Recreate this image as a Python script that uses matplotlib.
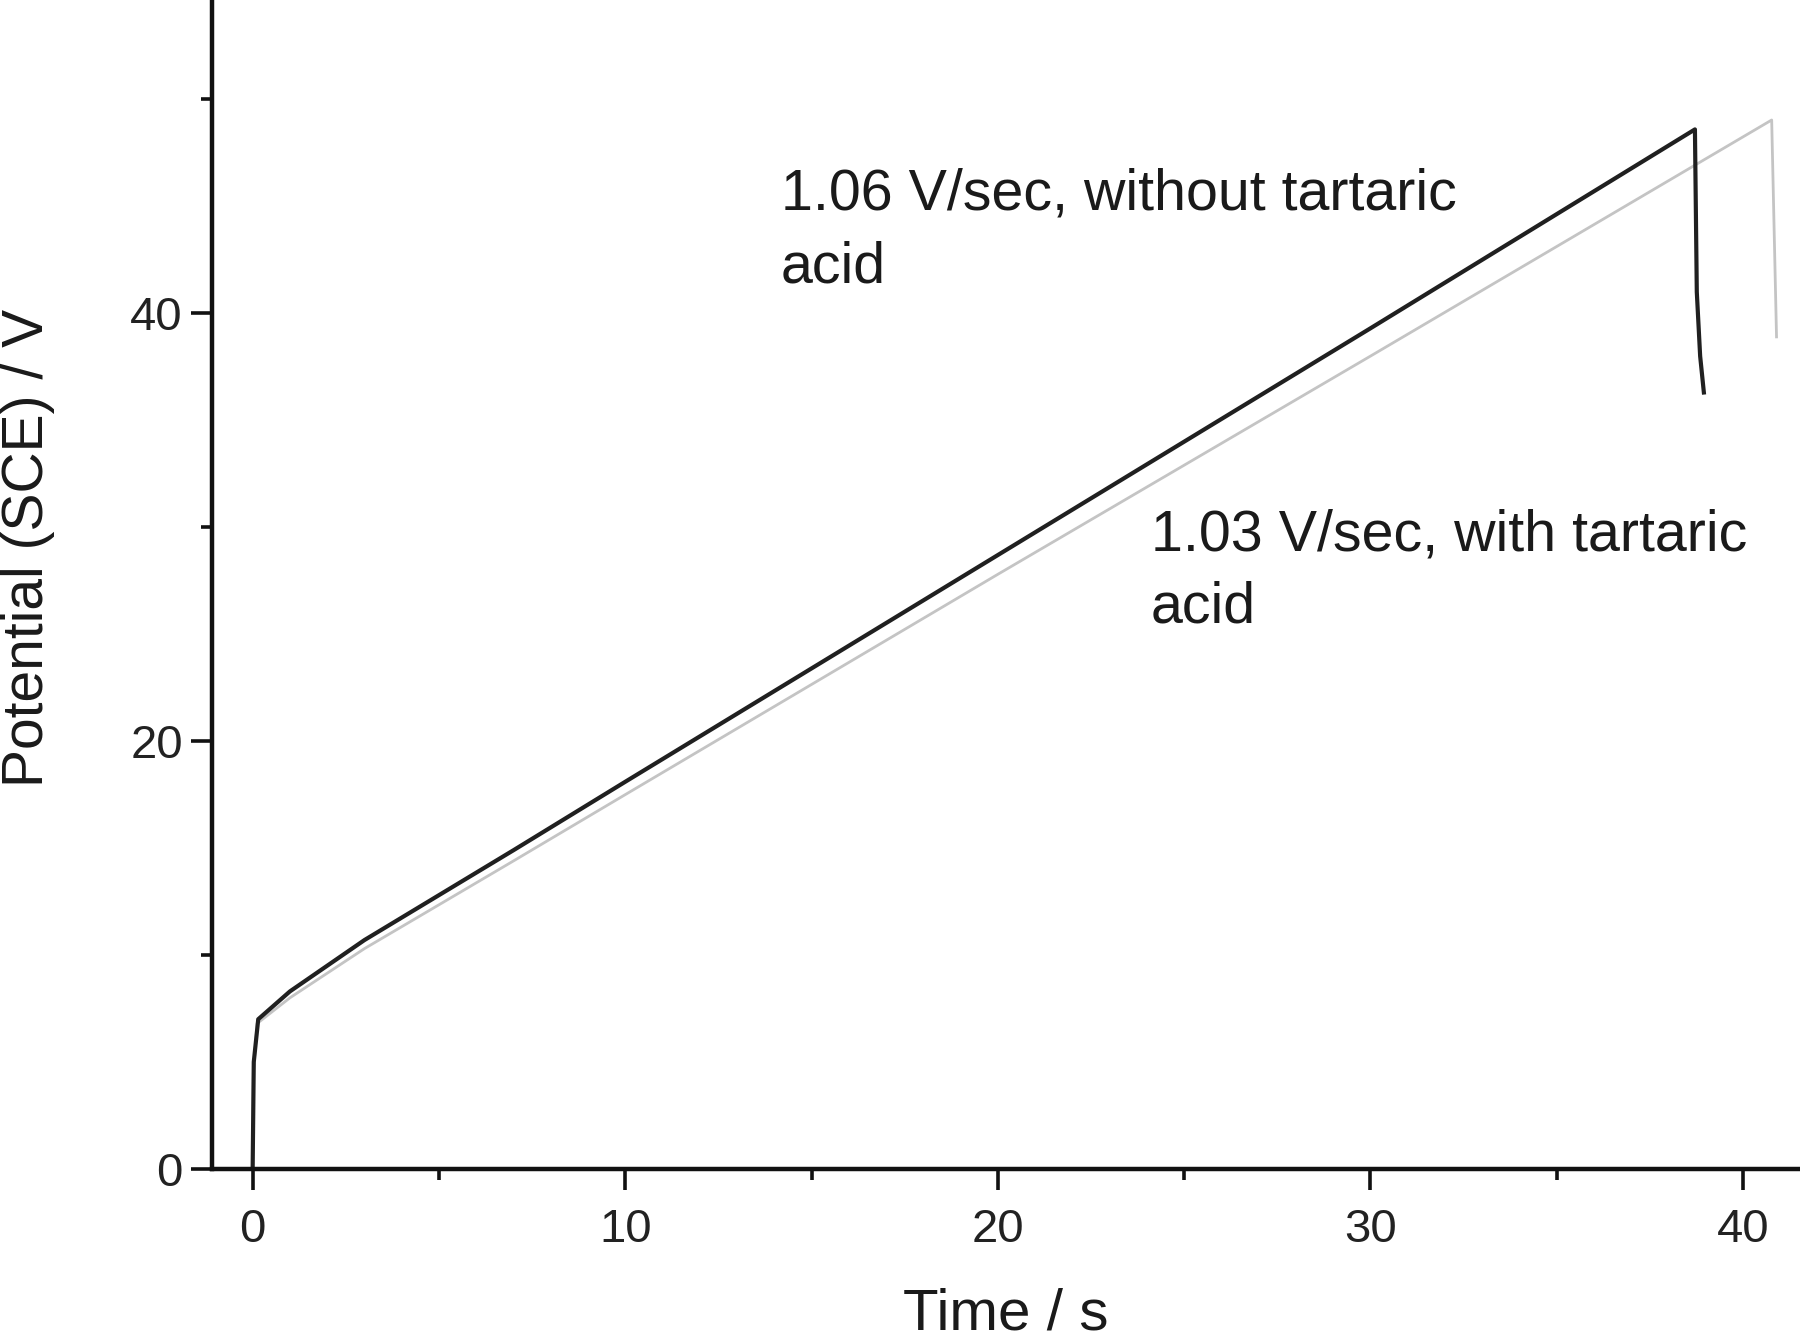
import matplotlib
matplotlib.use('Agg')
import matplotlib.pyplot as plt
from matplotlib.ticker import MultipleLocator

plt.rcParams['font.family'] = ['Liberation Sans', 'DejaVu Sans']

# 1.06 V/sec, without tartaric acid (black)
TIME_NO_TA = [0.0, 0.03, 0.15, 1.0, 3.0, 7.0, 10.0, 20.0, 30.0, 38.71, 38.76, 38.85, 38.95]
POT_NO_TA = [0.0, 5.0, 7.0, 8.3, 10.7, 14.9, 18.1, 28.7, 39.3, 48.6, 41.0, 38.0, 36.3]

# 1.03 V/sec, with tartaric acid (grey)
TIME_TA = [0.0, 0.02, 0.12, 1.0, 3.0, 7.0, 10.0, 20.0, 30.0, 40.77, 40.9]
POT_TA = [0.0, 4.5, 6.8, 8.0, 10.3, 14.4, 17.5, 27.8, 38.0, 49.04, 38.9]

LABEL_NO_TA = '1.06 V/sec, without tartaric\nacid'
LABEL_TA = '1.03 V/sec, with tartaric\nacid'

fig = plt.figure(figsize=(18, 13.39), dpi=100)
ax = fig.add_axes([0.1178, 0.127, 0.8822, 0.873])

ax.plot(TIME_TA, POT_TA, color='#c4c4c4', lw=2.0)
ax.plot(TIME_NO_TA, POT_NO_TA, color='#202020', lw=3.0)

ax.text(14.18, 46.8, LABEL_NO_TA, fontsize=41.3, va='top', ha='left',
        color='#1a1a1a', linespacing=1.45)
ax.text(24.1, 30.9, LABEL_TA, fontsize=41.3, va='top', ha='left',
        color='#1a1a1a', linespacing=1.45)

ax.set_xlim(-1.09, 41.53)
ax.set_ylim(0, 54.65)

ax.xaxis.set_major_locator(MultipleLocator(10))
ax.xaxis.set_minor_locator(MultipleLocator(5))
ax.yaxis.set_major_locator(MultipleLocator(20))
ax.yaxis.set_minor_locator(MultipleLocator(10))

for side in ['top', 'right']:
    ax.spines[side].set_visible(False)
for side in ['left', 'bottom']:
    ax.spines[side].set_linewidth(3.2)
    ax.spines[side].set_color('#111111')

ax.tick_params(which='major', direction='out', length=15, width=2.6,
               labelsize=34, colors='#111111', labelcolor='#222222')
ax.tick_params(which='minor', direction='out', length=8, width=2.6, colors='#111111')
ax.tick_params(axis='x', which='major', pad=13)
ax.tick_params(axis='y', which='major', pad=6)

ax.set_xlabel('Time / s', fontsize=42, color='#1a1a1a', labelpad=26)
ax.set_ylabel('Potential (SCE) / V', fontsize=41, color='#1a1a1a')
ax.yaxis.set_label_coords(-0.099, 0.531)

fig.savefig('out.png', dpi=100)
